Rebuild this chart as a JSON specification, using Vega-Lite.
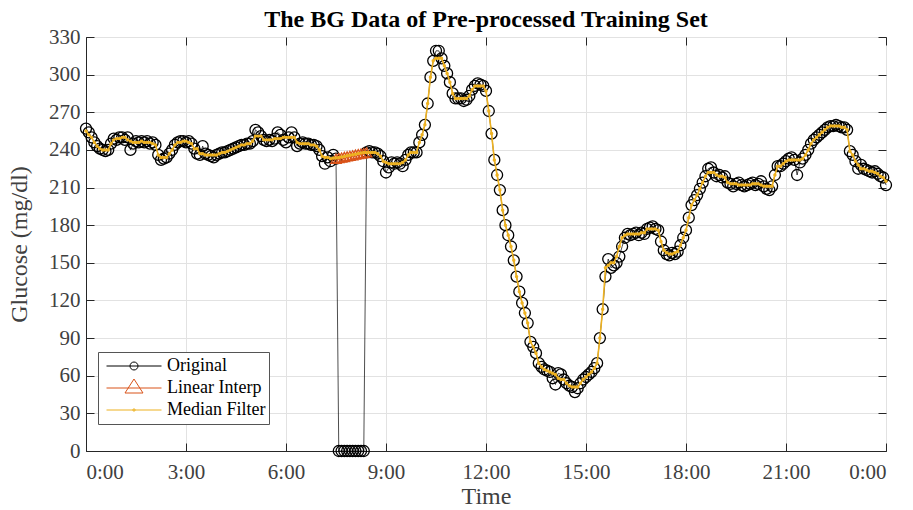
{
  "$schema": "https://vega.github.io/schema/vega-lite/v6.json",
  "width": 800,
  "height": 414,
  "padding": {"left": 7, "top": 8, "right": 10, "bottom": 0},
  "title": {"text": "The BG Data of Pre-processed Training Set", "font": "Liberation Serif", "fontSize": 24, "fontWeight": "bold", "color": "#000000", "offset": -6},
  "datasets": {
    "bg": [
      {"t":0,"o":257,"m":255},{"t":5,"o":254,"m":252},{"t":10,"o":250,"m":250},{"t":15,"o":246,"m":246},{"t":20,"o":243,"m":243},{"t":25,"o":241,"m":241},{"t":30,"o":240,"m":240},{"t":35,"o":239,"m":240},{"t":40,"o":240,"m":240},{"t":45,"o":245,"m":245},{"t":50,"o":249,"m":248},{"t":55,"o":248,"m":249},
      {"t":60,"o":250,"m":249},{"t":65,"o":250,"m":250},{"t":70,"o":248,"m":250},{"t":75,"o":250,"m":248},{"t":80,"o":240,"m":247},{"t":85,"o":245,"m":246},{"t":90,"o":247,"m":246},{"t":95,"o":246,"m":246},{"t":100,"o":247,"m":247},{"t":105,"o":246,"m":246},{"t":110,"o":247,"m":246},{"t":115,"o":245,"m":246},
      {"t":120,"o":246,"m":245},{"t":125,"o":244,"m":244},{"t":130,"o":236,"m":236},{"t":135,"o":232,"m":234},{"t":140,"o":233,"m":234},{"t":145,"o":234,"m":234},{"t":150,"o":237,"m":237},{"t":155,"o":240,"m":240},{"t":160,"o":244,"m":244},{"t":165,"o":246,"m":246},{"t":170,"o":247,"m":246},{"t":175,"o":247,"m":247},
      {"t":180,"o":246,"m":247},{"t":185,"o":247,"m":246},{"t":190,"o":245,"m":245},{"t":195,"o":241,"m":241},{"t":200,"o":237,"m":241},{"t":205,"o":236,"m":237},{"t":210,"o":243,"m":237},{"t":215,"o":237,"m":236},{"t":220,"o":236,"m":236},{"t":225,"o":235,"m":236},{"t":230,"o":234,"m":236},{"t":235,"o":236,"m":236},
      {"t":240,"o":237,"m":237},{"t":245,"o":238,"m":238},{"t":250,"o":238,"m":238},{"t":255,"o":239,"m":239},{"t":260,"o":240,"m":240},{"t":265,"o":241,"m":241},{"t":270,"o":242,"m":242},{"t":275,"o":243,"m":243},{"t":280,"o":244,"m":244},{"t":285,"o":244,"m":244},{"t":290,"o":245,"m":245},{"t":295,"o":245,"m":245},
      {"t":300,"o":247,"m":247},{"t":305,"o":256,"m":251},{"t":310,"o":254,"m":251},{"t":315,"o":251,"m":251},{"t":320,"o":248,"m":248},{"t":325,"o":247,"m":248},{"t":330,"o":248,"m":248},{"t":335,"o":247,"m":248},{"t":340,"o":249,"m":249},{"t":345,"o":254,"m":249},{"t":350,"o":252,"m":249},{"t":355,"o":248,"m":250},
      {"t":360,"o":246,"m":250},{"t":365,"o":250,"m":250},{"t":370,"o":254,"m":250},{"t":375,"o":250,"m":250},{"t":380,"o":243,"m":246},{"t":385,"o":245,"m":245},{"t":390,"o":246,"m":245},{"t":395,"o":245,"m":245},{"t":400,"o":245,"m":245},{"t":405,"o":244,"m":244},{"t":410,"o":244,"m":244},{"t":415,"o":243,"m":243},
      {"t":420,"o":240,"m":240},{"t":425,"o":235,"m":235},{"t":430,"o":229,"m":234},{"t":435,"o":234,"m":234},{"t":440,"o":231,"m":233},{"t":445,"o":236,"m":233.5},{"t":450,"o":233,"m":233.5,"i":233},{"t":455,"o":0,"m":233.9,"i":233.5},{"t":460,"o":0,"m":234.4,"i":233.9},{"t":465,"o":0,"m":234.8,"i":234.4},{"t":470,"o":0,"m":235.3,"i":234.8},{"t":475,"o":0,"m":235.7,"i":235.3},
      {"t":480,"o":0,"m":236.2,"i":235.7},{"t":485,"o":0,"m":236.6,"i":236.2},{"t":490,"o":0,"m":237.1,"i":236.6},{"t":495,"o":0,"m":237.5,"i":237.1},{"t":500,"o":0,"m":238,"i":237.5},{"t":505,"o":238,"m":238,"i":238},{"t":510,"o":239,"m":238},{"t":515,"o":238,"m":238},{"t":520,"o":238,"m":238},{"t":525,"o":237,"m":237},{"t":530,"o":235,"m":235},{"t":535,"o":231,"m":231},
      {"t":540,"o":222,"m":230},{"t":545,"o":226,"m":229},{"t":550,"o":230,"m":229},{"t":555,"o":229,"m":229},{"t":560,"o":230,"m":229},{"t":565,"o":229,"m":229},{"t":570,"o":227,"m":230},{"t":575,"o":232,"m":232},{"t":580,"o":236,"m":236},{"t":585,"o":238,"m":238},{"t":590,"o":238,"m":238},{"t":595,"o":238,"m":238},
      {"t":600,"o":246,"m":246},{"t":605,"o":252,"m":252},{"t":610,"o":260,"m":260},{"t":615,"o":277,"m":277},{"t":620,"o":298,"m":298},{"t":625,"o":311,"m":311},{"t":630,"o":319,"m":313},{"t":635,"o":319,"m":313},{"t":640,"o":313,"m":313},{"t":645,"o":307,"m":307},{"t":650,"o":301,"m":301},{"t":655,"o":294,"m":294},
      {"t":660,"o":285,"m":285},{"t":665,"o":281,"m":281},{"t":670,"o":281,"m":281},{"t":675,"o":281,"m":281},{"t":680,"o":279,"m":281},{"t":685,"o":280,"m":281},{"t":690,"o":283,"m":283},{"t":695,"o":288,"m":288},{"t":700,"o":291,"m":291},{"t":705,"o":293,"m":291},{"t":710,"o":292,"m":291},{"t":715,"o":291,"m":291},
      {"t":720,"o":287,"m":287},{"t":725,"o":271,"m":271},{"t":730,"o":253,"m":253},{"t":735,"o":232,"m":232},{"t":740,"o":220,"m":220},{"t":745,"o":208,"m":208},{"t":750,"o":192,"m":192},{"t":755,"o":180,"m":180},{"t":760,"o":172,"m":172},{"t":765,"o":163,"m":163},{"t":770,"o":152,"m":152},{"t":775,"o":139,"m":139},
      {"t":780,"o":127,"m":127},{"t":785,"o":118,"m":118},{"t":790,"o":110,"m":110},{"t":795,"o":102,"m":102},{"t":800,"o":87,"m":87},{"t":805,"o":83,"m":83},{"t":810,"o":78,"m":78},{"t":815,"o":70,"m":70},{"t":820,"o":67,"m":67},{"t":825,"o":65,"m":65},{"t":830,"o":64,"m":64},{"t":835,"o":63,"m":63},
      {"t":840,"o":58,"m":62},{"t":845,"o":53,"m":61},{"t":850,"o":62,"m":58},{"t":855,"o":61,"m":57},{"t":860,"o":57,"m":57},{"t":865,"o":54,"m":54},{"t":870,"o":52,"m":52},{"t":875,"o":51,"m":51},{"t":880,"o":47,"m":51},{"t":885,"o":50,"m":51},{"t":890,"o":54,"m":54},{"t":895,"o":57,"m":57},
      {"t":900,"o":59,"m":59},{"t":905,"o":61,"m":61},{"t":910,"o":63,"m":63},{"t":915,"o":66,"m":66},{"t":920,"o":70,"m":70},{"t":925,"o":90,"m":90},{"t":930,"o":113,"m":113},{"t":935,"o":139,"m":146},{"t":940,"o":153,"m":148},{"t":945,"o":146,"m":150},{"t":950,"o":148,"m":150},{"t":955,"o":150,"m":155},
      {"t":960,"o":155,"m":163},{"t":965,"o":163,"m":170},{"t":970,"o":170,"m":172},{"t":975,"o":173,"m":173},{"t":980,"o":172,"m":173},{"t":985,"o":173,"m":173},{"t":990,"o":174,"m":173},{"t":995,"o":172,"m":173},{"t":1000,"o":174,"m":174},{"t":1005,"o":173,"m":174},{"t":1010,"o":177,"m":177},{"t":1015,"o":178,"m":177},
      {"t":1020,"o":179,"m":177},{"t":1025,"o":177,"m":177},{"t":1030,"o":176,"m":176},{"t":1035,"o":167,"m":167},{"t":1040,"o":160,"m":160},{"t":1045,"o":157,"m":158},{"t":1050,"o":156,"m":157},{"t":1055,"o":158,"m":157},{"t":1060,"o":157,"m":158},{"t":1065,"o":159,"m":159},{"t":1070,"o":164,"m":164},{"t":1075,"o":170,"m":170},
      {"t":1080,"o":176,"m":176},{"t":1085,"o":186,"m":186},{"t":1090,"o":196,"m":196},{"t":1095,"o":200,"m":200},{"t":1100,"o":204,"m":204},{"t":1105,"o":209,"m":209},{"t":1110,"o":214,"m":214},{"t":1115,"o":219,"m":219},{"t":1120,"o":225,"m":222},{"t":1125,"o":226,"m":222},{"t":1130,"o":222,"m":222},{"t":1135,"o":219,"m":220},
      {"t":1140,"o":220,"m":219},{"t":1145,"o":218,"m":219},{"t":1150,"o":219,"m":218},{"t":1155,"o":214,"m":214},{"t":1160,"o":213,"m":213},{"t":1165,"o":211,"m":213},{"t":1170,"o":213,"m":213},{"t":1175,"o":214,"m":212},{"t":1180,"o":212,"m":212},{"t":1185,"o":211,"m":212},{"t":1190,"o":212,"m":212},{"t":1195,"o":213,"m":212},
      {"t":1200,"o":214,"m":213},{"t":1205,"o":212,"m":213},{"t":1210,"o":213,"m":213},{"t":1215,"o":215,"m":212},{"t":1220,"o":211,"m":211},{"t":1225,"o":209,"m":211},{"t":1230,"o":208,"m":211},{"t":1235,"o":211,"m":211},{"t":1240,"o":220,"m":220},{"t":1245,"o":227,"m":227},{"t":1250,"o":227,"m":227},{"t":1255,"o":229,"m":229},
      {"t":1260,"o":231,"m":231},{"t":1265,"o":233,"m":232},{"t":1270,"o":234,"m":232},{"t":1275,"o":232,"m":232},{"t":1280,"o":220,"m":232},{"t":1285,"o":230,"m":232},{"t":1290,"o":233,"m":233},{"t":1295,"o":236,"m":236},{"t":1300,"o":240,"m":240},{"t":1305,"o":245,"m":245},{"t":1310,"o":248,"m":248},{"t":1315,"o":250,"m":250},
      {"t":1320,"o":252,"m":252},{"t":1325,"o":254,"m":254},{"t":1330,"o":256,"m":256},{"t":1335,"o":258,"m":258},{"t":1340,"o":259,"m":259},{"t":1345,"o":259,"m":259},{"t":1350,"o":260,"m":259},{"t":1355,"o":259,"m":259},{"t":1360,"o":258,"m":258},{"t":1365,"o":258,"m":258},{"t":1370,"o":256,"m":256},{"t":1375,"o":239,"m":239},
      {"t":1380,"o":236,"m":236},{"t":1385,"o":231,"m":231},{"t":1390,"o":225,"m":228},{"t":1395,"o":228,"m":225},{"t":1400,"o":225,"m":225},{"t":1405,"o":224,"m":224},{"t":1410,"o":223,"m":223},{"t":1415,"o":222,"m":223},{"t":1420,"o":223,"m":222},{"t":1425,"o":221,"m":221},{"t":1430,"o":219,"m":219},{"t":1435,"o":218,"m":218},
      {"t":1440,"o":212,"m":215}
    ],
    "series": [{"s": "Original"}, {"s": "Linear Interp"}, {"s": "Median Filter"}]
  },
  "data": {"name": "bg"},
  "resolve": {"axis": {"x": "independent", "y": "independent"}},
  "layer": [
    {
      "mark": {"type": "line", "color": "#000000", "strokeWidth": 0.7},
      "encoding": {
        "x": {
          "field": "t", "type": "quantitative", "title": "Time",
          "scale": {"domain": [0, 1440], "nice": false, "zero": false},
          "axis": {"values": [0, 180, 360, 540, 720, 900, 1080, 1260, 1440], "labelExpr": "floor(datum.value / 60) % 24 + ':00'", "labelPadding": 18, "titlePadding": 2, "labelOverlap": false}
        },
        "y": {"field": "o", "type": "quantitative", "title": "Glucose (mg/dl)", "scale": {"domain": [0, 330], "nice": false}, "axis": {"values": [0, 30, 60, 90, 120, 150, 180, 210, 240, 270, 300, 330], "labelPadding": 14, "titlePadding": 17, "labelOverlap": false}}
      }
    },
    {
      "mark": {"type": "point", "shape": "circle", "filled": false, "stroke": "#000000", "strokeWidth": 1.3, "size": 121, "opacity": 1},
      "encoding": {
        "x": {"field": "t", "type": "quantitative", "axis": null},
        "y": {"field": "o", "type": "quantitative", "axis": null}
      }
    },
    {
      "transform": [{"filter": "isValid(datum.i)"}],
      "layer": [
        {
          "mark": {"type": "line", "color": "#D95319", "strokeWidth": 1},
          "encoding": {
            "x": {"field": "t", "type": "quantitative", "axis": null},
            "y": {"field": "i", "type": "quantitative", "axis": null}
          }
        },
        {
          "mark": {"type": "point", "shape": "triangle-up", "filled": false, "stroke": "#D95319", "strokeWidth": 1.3, "size": 110, "opacity": 1},
          "encoding": {
            "x": {"field": "t", "type": "quantitative", "axis": null},
            "y": {"field": "i", "type": "quantitative", "axis": null}
          }
        }
      ]
    },
    {
      "mark": {"type": "line", "color": "#EDB120", "strokeWidth": 1.6},
      "encoding": {
        "x": {"field": "t", "type": "quantitative", "axis": null},
        "y": {"field": "m", "type": "quantitative", "axis": null}
      }
    },
    {
      "mark": {"type": "point", "shape": "circle", "filled": true, "color": "#EDB120", "size": 12, "opacity": 1},
      "encoding": {
        "x": {"field": "t", "type": "quantitative", "axis": null},
        "y": {"field": "m", "type": "quantitative", "axis": null}
      }
    },
    {
      "mark": {"type": "point", "opacity": 0},
      "encoding": {
        "x": {"field": "t", "type": "quantitative", "axis": {"orient": "top", "values": [0, 180, 360, 540, 720, 900, 1080, 1260, 1440], "labels": false, "grid": false, "domain": false, "title": null}},
        "y": {"field": "o", "type": "quantitative", "axis": {"orient": "right", "values": [0, 30, 60, 90, 120, 150, 180, 210, 240, 270, 300, 330], "labels": false, "grid": false, "domain": false, "title": null}}
      }
    },
    {
      "data": {"name": "series"},
      "mark": {"type": "point", "filled": false, "opacity": 0},
      "encoding": {
        "color": {
          "field": "s", "type": "nominal",
          "scale": {"domain": ["Original", "Linear Interp", "Median Filter"], "range": ["#000000", "#D95319", "#EDB120"]},
          "legend": {"title": null}
        },
        "shape": {
          "field": "s", "type": "nominal",
          "scale": {"domain": ["Original", "Linear Interp", "Median Filter"], "range": [
            "M-0.833,0H1M0.2166,0A0.1333,0.1333 0 1,1 -0.05,0A0.1333,0.1333 0 1,1 0.2166,0",
            "M-0.833,0H1M0.0833,-0.3L0.3833,0.167L-0.2167,0.167Z",
            "M-0.833,0H1M0.1233,0A0.04,0.04 0 1,1 0.0433,0A0.04,0.04 0 1,1 0.1233,0"
          ]},
          "legend": {"title": null}
        }
      }
    }
  ],
  "config": {
    "font": "Liberation Serif",
    "background": "#ffffff",
    "view": {"stroke": "#262626", "strokeWidth": 1},
    "axis": {
      "labelFont": "Liberation Serif", "labelFontSize": 21, "labelColor": "#404040",
      "titleFont": "Liberation Serif", "titleFontSize": 24, "titleFontWeight": "normal", "titleColor": "#404040",
      "domainColor": "#262626", "domainWidth": 1, "tickColor": "#262626", "tickSize": -8, "tickWidth": 1,
      "grid": true, "gridColor": "#e2e2e2", "gridWidth": 1
    },
    "legend": {
      "orient": "none", "legendX": 12, "legendY": 315,
      "fillColor": "#ffffff", "strokeColor": "#555555", "strokeWidth": 1, "padding": 3, "cornerRadius": 0,
      "symbolSize": 3600, "clipHeight": 22, "rowPadding": 0, "labelOffset": 5,
      "symbolStrokeWidth": 1, "symbolOpacity": 1,
      "labelFont": "Liberation Serif", "labelFontSize": 18, "labelColor": "#000000", "labelLimit": 300
    }
  }
}
